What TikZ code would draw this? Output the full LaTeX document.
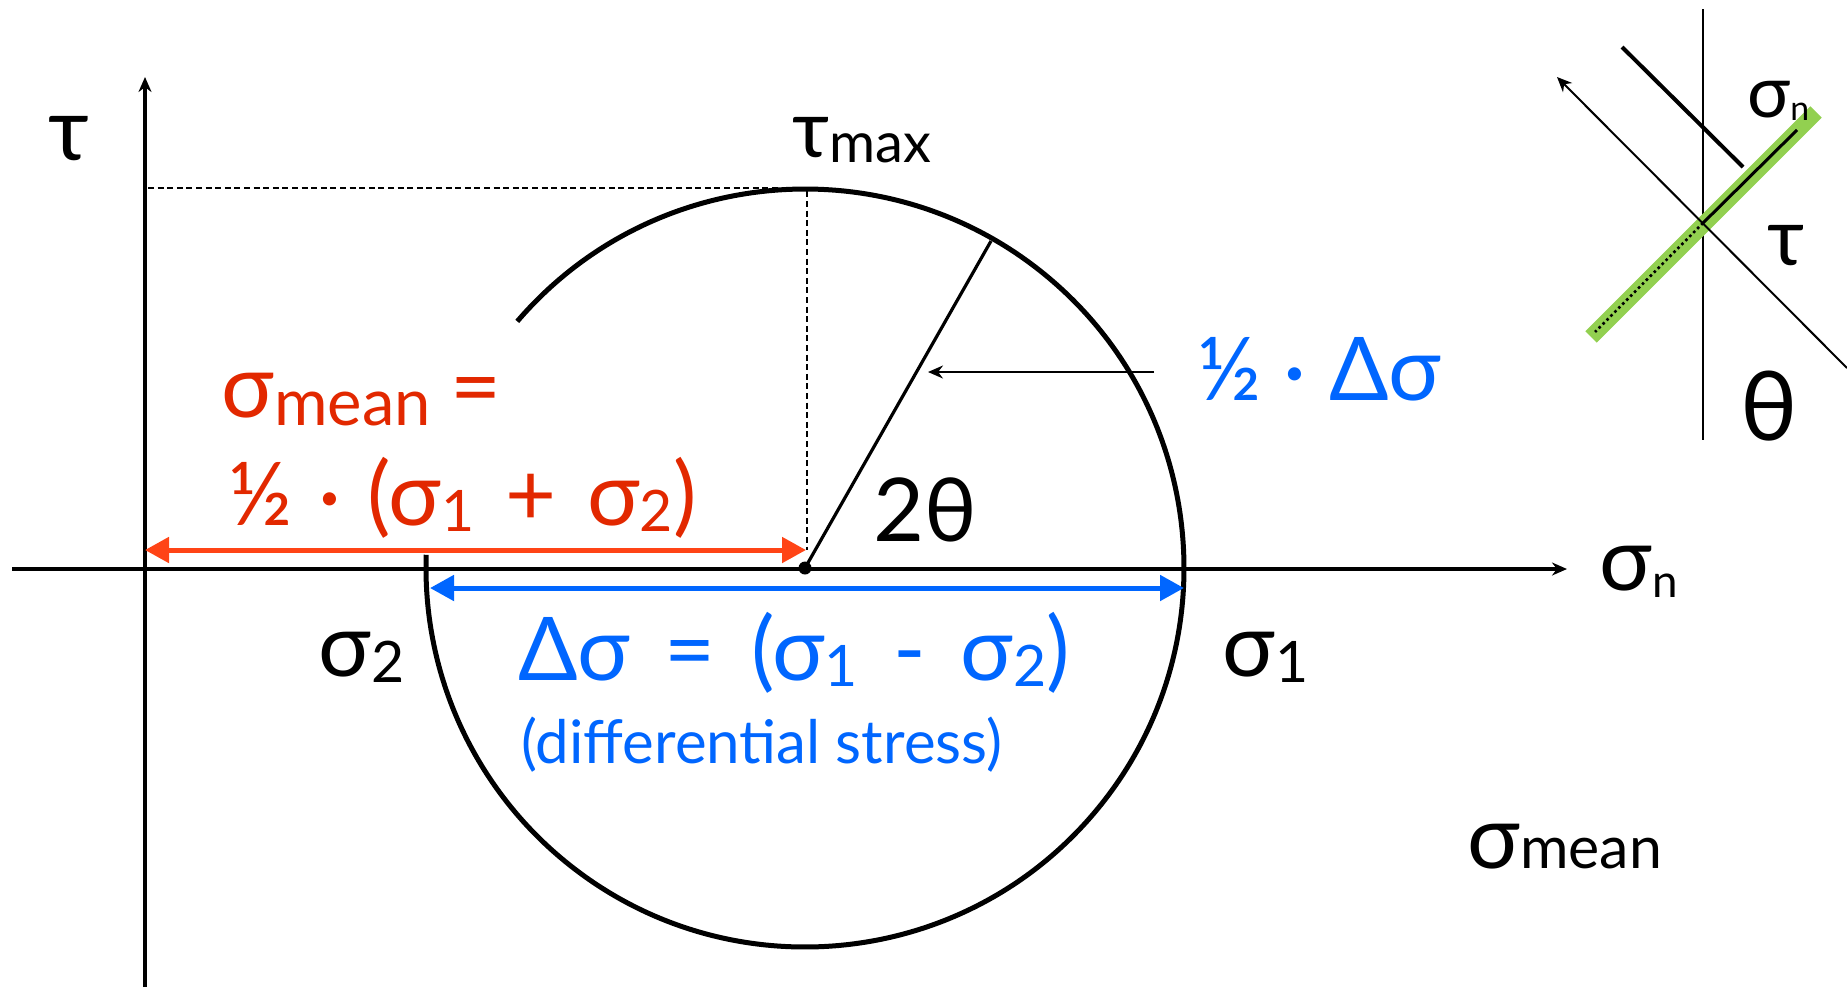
\documentclass[tikz,border=0pt]{standalone}
\usepackage{fontspec}
\setmainfont{Lato}
\usetikzlibrary{arrows.meta}
\definecolor{redtxt}{RGB}{226,40,0}
\definecolor{redarr}{RGB}{255,68,22}
\definecolor{bluec}{RGB}{0,102,255}
\definecolor{greenc}{RGB}{146,208,80}
% subscript: [scale]{lowering}{text}
\newcommand\sbs[3][0.65]{\raisebox{-#2}{\scalebox{#1}{#3}}}
\newcommand\gap{\hspace{0.4em}}
\begin{document}
\begin{tikzpicture}[x=0.5pt,y=0.5pt,
  lbl/.style={inner sep=0pt, anchor=base west, font=\fontsize{44}{50}\selectfont},
  smalllbl/.style={inner sep=0pt, anchor=base west, font=\fontsize{30}{34}\selectfont},
  axisline/.style={line width=1.7pt, -{Stealth[length=7.5pt,width=6.5pt]}},
  circline/.style={line width=2.5pt},
  dimarrow/.style={line width=2.5pt, {Triangle[length=12pt,width=12.5pt]}-{Triangle[length=12pt,width=12.5pt]}},
  guide/.style={line width=1.3pt, dash pattern=on 3pt off 1.8pt},
  thinarrow/.style={line width=1pt, -{Stealth[length=7.5pt,width=6.5pt]}}]
\useasboundingbox (0,0) rectangle (1847,-987);

% ---------- axes ----------
\coordinate (xL) at (12,-569);
\coordinate (xR) at (1567,-569);
\coordinate (yB) at (145,-987);
\coordinate (yT) at (145,-77);
\draw[axisline] (xL) -- (xR);
\draw[axisline] (yB) -- (yT);

% ---------- Mohr circle ----------
\coordinate (C) at (805,-568);
\draw[circline] (C) ++(139.4:379) arc[start angle=139.4, end angle=-182, radius=189.5pt];

% guides to tau max
\coordinate (Ttop) at (807,-188);
\coordinate (Tleft) at (148,-188);
\coordinate (Tfoot) at (807,-550);
\draw[guide] (Tleft) -- (Ttop) -- (Tfoot);

% radius line and centre
\coordinate (Rend) at (991,-241);
\draw[line width=1.6pt] (C) -- (Rend);
\node[circle, fill=black, inner sep=0pt, minimum size=6.5pt] (Cdot) at (C) {};

% sigma mean arrow (red)
\coordinate (rA) at (145,-550);
\coordinate (rB) at (806,-550);
\draw[dimarrow, redarr] (rA) -- (rB);

% delta sigma arrow (blue)
\coordinate (bA) at (430,-588);
\coordinate (bB) at (1184,-588);
\draw[dimarrow, bluec] (bA) -- (bB);

% half delta sigma pointer
\coordinate (hA) at (1154,-372);
\coordinate (hB) at (928,-372);
\draw[thinarrow] (hA) -- (hB);

% ---------- labels ----------
\node[lbl] (tau) at (48,-160) {τ};
\node[lbl, font=\fontsize{40}{44}\selectfont] (taumax) at (792,-157) {τ\sbs[0.7]{2.5pt}{max}};
\node[lbl] (sn) at (1599,-590) {σ\sbs[0.52]{3.5pt}{n}};
\node[lbl] (s2) at (318,-676) {σ\sbs{3pt}{2}};
\node[lbl] (s1) at (1222,-676) {σ\sbs{3pt}{1}};
\node[lbl] (twotheta) at (873,-541) {2θ};
\node[lbl, text=bluec] (dsig) at (518,-680) {Δσ\gap=\gap(σ\sbs{3pt}{1}\gap-\gap σ\sbs{3pt}{2})};
\node[smalllbl, text=bluec] (diff) at (521,-763) {(differential stress)};
\node[lbl, text=bluec] (half) at (1197,-400) {½ · Δσ};
\node[lbl, text=redtxt] (m1) at (221,-417) {σ\sbs[0.74]{4pt}{mean}\hspace{0.22em}=};
\node[lbl, text=redtxt] (m2) at (228,-525) {½\hspace{0.3em}·\hspace{0.3em}(σ\sbs{3pt}{1}\hspace{0.35em}+\hspace{0.35em}σ\sbs{3pt}{2})};
\node[lbl] (smean) at (1467,-868) {σ\sbs[0.67]{0pt}{mean}};

% ---------- inset ----------
\coordinate (IC) at (1703,-223);
\coordinate (vT) at (1703,-9);
\coordinate (vB) at (1703,-440);
\draw[line width=1pt] (vT) -- (vB);
\coordinate (gA) at (1591,-337);
\coordinate (gB) at (1816,-112);
\draw[greenc, line width=8pt] (gA) -- (gB);
\coordinate (sA) at (1797,-130);
\draw[line width=1.5pt] (IC) -- (sA);
\coordinate (dA) at (1595,-332);
\draw[line width=1.3pt, dash pattern=on 1.3pt off 1.5pt] (IC) -- (dA);
\coordinate (aS) at (1847,-368);
\coordinate (aE) at (1557,-77);
\draw[thinarrow] (aS) -- (aE);
\coordinate (kA) at (1622,-47);
\coordinate (kB) at (1743,-167);
\draw[line width=2pt] (kA) -- (kB);
\node[lbl, font=\fontsize{36}{40}\selectfont] (isn) at (1747,-117) {σ\sbs[0.47]{1.5pt}{n}};
\node[lbl, font=\fontsize{40}{44}\selectfont] (itau) at (1767,-265) {τ};
\node[lbl, font=\fontsize{48}{52}\selectfont] (ith) at (1740,-440) {θ};
\end{tikzpicture}
\end{document}
